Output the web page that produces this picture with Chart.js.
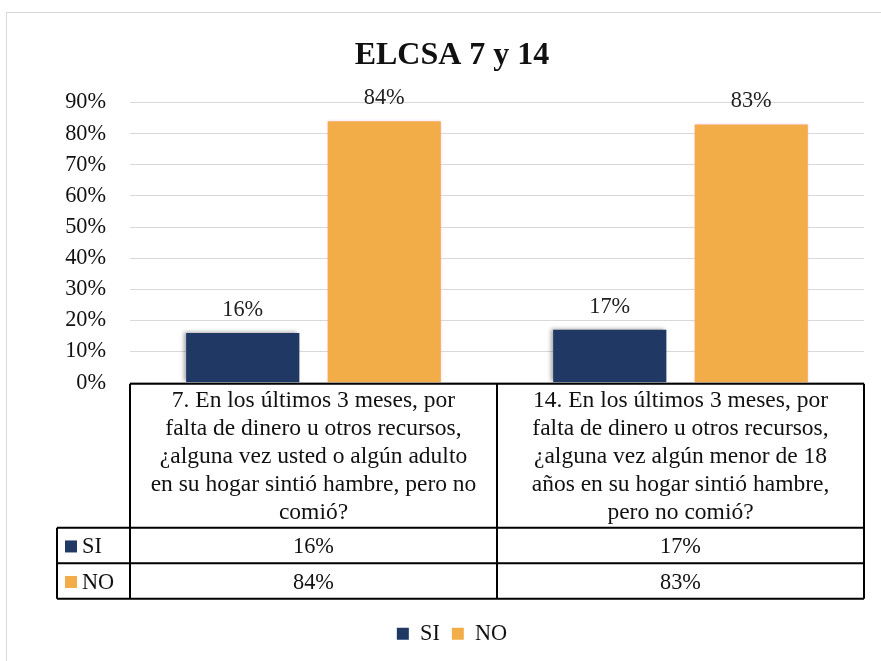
<!DOCTYPE html>
<html>
<head>
<meta charset="utf-8">
<script src="https://cdn.jsdelivr.net/npm/chart.js@4"></script>
<style>
  html, body { margin: 0; padding: 0; background: #fff; width: 881px; height: 661px; overflow: hidden; }
  #frame { position: absolute; left: 6px; top: 12px; width: 900px; height: 700px; border: 1px solid #d9d9d9; box-sizing: border-box; }
  #wrap { position: absolute; left: 0; top: 0; width: 881px; height: 661px; }
</style>
</head>
<body>
<div id="frame"></div>
<div id="wrap"><canvas id="c" width="881" height="661"></canvas></div>
<script>
const titleText = 'ELCSA 7 y 14';
const categories = ['7', '14'];
const categoryLines = [
  ['7. En los últimos 3 meses, por', 'falta de dinero u otros recursos,', '¿alguna vez usted o algún adulto', 'en su hogar sintió hambre, pero no', 'comió?'],
  ['14. En los últimos 3 meses, por', 'falta de dinero u otros recursos,', '¿alguna vez algún menor de 18', 'años en su hogar sintió hambre,', 'pero no comió?']
];
const seriesNames = ['SI', 'NO'];
const siValues = [16, 17];
const noValues = [84, 83];
const seriesColors = ['#1F3864', '#F2AC48'];
const yTicks = [0, 10, 20, 30, 40, 50, 60, 70, 80, 90];

const FONT = "'Liberation Serif', 'Times New Roman', serif";
const FS = 22.3;
const HFS = 23.5;

const tablePlugin = {
  id: 'tablePlugin',
  beforeDatasetDraw(chart, args) {
    const ctx = chart.ctx;
    ctx.save();
    if (args.index === 0) {
      ctx.shadowColor = 'rgba(0,0,0,0.35)';
      ctx.shadowBlur = 4;
      ctx.shadowOffsetX = -2;
      ctx.shadowOffsetY = -1;
    } else {
      ctx.shadowColor = 'rgba(255,120,255,0.45)';
      ctx.shadowBlur = 3;
    }
  },
  afterDatasetDraw(chart) {
    chart.ctx.restore();
  },
  afterDraw(chart) {
    const ctx = chart.ctx;
    const area = chart.chartArea;
    const xs = chart.scales.x;
    const data = chart.data.datasets;
    ctx.save();
    ctx.font = FS + 'px ' + FONT;
    ctx.fillStyle = '#222';
    ctx.textAlign = 'center';
    ctx.textBaseline = 'alphabetic';
    data.forEach((ds, di) => {
      chart.getDatasetMeta(di).data.forEach((bar, i) => {
        ctx.fillText(ds.data[i] + '%', bar.x, bar.y - 17);
      });
    });

    const top = area.bottom + 1;
    const headerH = 144;
    const rowH = 35.5;
    const legendLeft = 57;
    const left = area.left;
    const right = area.right;
    const n = categories.length;
    const colW = (right - left) / n;
    const bounds = [];
    for (let i = 0; i <= n; i++) bounds.push(left + i * colW);

    ctx.strokeStyle = '#000';
    ctx.lineWidth = 2;
    ctx.beginPath();
    ctx.moveTo(left, top); ctx.lineTo(right, top);
    bounds.forEach(b => { ctx.moveTo(b, top); ctx.lineTo(b, top + headerH + rowH * 2); });
    for (let r = 0; r <= 2; r++) {
      const y = top + headerH + r * rowH;
      ctx.moveTo(legendLeft, y); ctx.lineTo(right, y);
    }
    ctx.moveTo(legendLeft, top + headerH); ctx.lineTo(legendLeft, top + headerH + rowH * 2);
    ctx.stroke();

    ctx.fillStyle = '#111';
    ctx.textBaseline = 'middle';
    ctx.textAlign = 'center';
    ctx.font = HFS + 'px ' + FONT;
    const lh = 28;
    categoryLines.forEach((lines, i) => {
      const cx = xs.getPixelForValue(i);
      const startY = top + headerH / 2 - (lines.length - 1) * lh / 2 + 1;
      lines.forEach((ln, k) => ctx.fillText(ln, cx, startY + k * lh));
    });
    ctx.font = FS + 'px ' + FONT;
    data.forEach((ds, di) => {
      const cy = top + headerH + di * rowH + rowH / 2 + 1;
      ctx.fillStyle = seriesColors[di];
      ctx.fillRect(legendLeft + 8, cy - 6, 12, 12);
      ctx.fillStyle = '#111';
      ctx.textAlign = 'left';
      ctx.fillText(seriesNames[di], legendLeft + 25, cy + 1);
      ctx.textAlign = 'center';
      ds.data.forEach((v, i) => ctx.fillText(v + '%', xs.getPixelForValue(i), cy + 1));
    });
    ctx.restore();
  }
};

new Chart(document.getElementById('c'), {
  type: 'bar',
  data: {
    labels: categories,
    datasets: [
      { label: seriesNames[0], data: siValues, backgroundColor: seriesColors[0], categoryPercentage: 0.771, barPercentage: 0.8 },
      { label: seriesNames[1], data: noValues, backgroundColor: seriesColors[1], categoryPercentage: 0.771, barPercentage: 0.8 }
    ]
  },
  options: {
    responsive: false,
    animation: false,
    devicePixelRatio: 1,
    layout: { padding: { left: 40, right: 17, top: 0, bottom: 6 } },
    plugins: {
      title: {
        display: true, text: titleText, color: '#111',
        font: { family: FONT, size: 32, weight: 'bold' },
        padding: { top: 37, bottom: 27.2 }
      },
      legend: {
        position: 'bottom',
        labels: {
          color: '#111', boxWidth: 12, boxHeight: 12, padding: 12,
          font: { family: FONT, size: FS }
        }
      },
      tooltip: { enabled: false }
    },
    scales: {
      x: {
        display: true,
        grid: { display: false, drawTicks: false },
        border: { display: false },
        ticks: { display: false },
        afterFit(scale) { scale.height = 228; }
      },
      y: {
        min: 0, max: 90,
        afterFit(scale) { scale.width = 90; },
        afterBuildTicks(scale) { scale.ticks = yTicks.map(v => ({ value: v })); },
        grid: { color: '#d9d9d9', lineWidth: 1, drawTicks: false },
        border: { display: false },
        ticks: {
          padding: 24, color: '#111',
          font: { family: FONT, size: FS },
          callback: v => v + '%'
        }
      }
    }
  },
  plugins: [tablePlugin]
});
</script>
</body>
</html>
